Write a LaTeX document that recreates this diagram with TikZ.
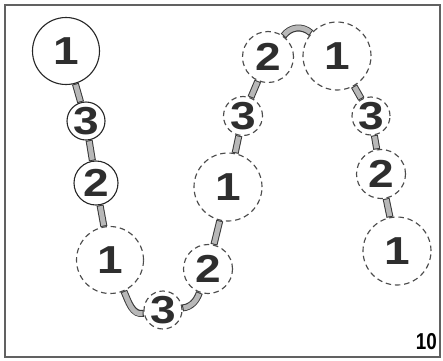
\documentclass[tikz,border=0pt]{standalone}
\usepackage{fontspec}
\newfontfamily\digitfont{Liberation Sans}
\newfontfamily\pagefont{Liberation Sans}
% wide heavy digits
\newcommand\wdigit[1]{\scalebox{1.18}[1]{#1}}

\begin{document}
\begin{tikzpicture}[x=1pt, y=-1pt,
  disc/.style={circle, draw=black!85, line width=1.1pt, fill=white, inner sep=0pt,
    text=black!82, font=\digitfont\bfseries\fontsize{39}{39}\selectfont},
  ghost/.style={disc, draw=black!70, line width=1.15pt, dash pattern=on 5.5pt off 3.8pt},
  link/.style={draw=black!28, line width=5pt, shorten <=1pt, shorten >=1pt,
    preaction={draw=black!78, line width=7pt, shorten <=0pt, shorten >=0pt}}
]
\useasboundingbox (0,0) rectangle (443,360);

% frame
\draw[line width=1.5pt, black!62] (5,5) rectangle (440,357);

% first run: solid circles
\node[disc, minimum size=67pt] (a1) at (66,51) {\wdigit{1}};
\node[disc, minimum size=38pt] (a3) at (86,121) {\wdigit{3}};
\node[disc, minimum size=44pt] (a2) at (96,183) {\wdigit{2}};

% remaining run: dashed circles
\node[ghost, minimum size=67pt] (b1) at (110,260) {\wdigit{1}};
\node[ghost, minimum size=38pt] (b3) at (163,310) {\wdigit{3}};
\node[ghost, minimum size=49pt] (b2) at (208,269) {\wdigit{2}};
\node[ghost, minimum size=68pt] (c1) at (228,187) {\wdigit{1}};
\node[ghost, minimum size=39pt] (c3) at (243,116) {\wdigit{3}};
\node[ghost, minimum size=51pt] (c2) at (268,57) {\wdigit{2}};
\node[ghost, minimum size=68pt] (d1) at (337,56) {\wdigit{1}};
\node[ghost, minimum size=38pt] (d3) at (371,116) {\wdigit{3}};
\node[ghost, minimum size=49pt] (d2) at (381,174) {\wdigit{2}};
\node[ghost, minimum size=68pt] (e1) at (397,251) {\wdigit{1}};

% connecting bars (out/in angles measured on the page, y upwards)
\draw[link] (a1) -- (a3);
\draw[link] (a3) -- (a2);
\draw[link] (a2) -- (b1);
\draw[link] (b1) to[out=-66, in=-170] (b3);
\draw[link] (b3) to[out=6, in=-110] (b2);
\draw[link] (b2) -- (c1);
\draw[link] (c1) -- (c3);
\draw[link] (c3) -- (c2);
\draw[link] (c2) .. controls (290,27) and (302,25) .. (d1);
\draw[link] (d1) -- (d3);
\draw[link] (d3) -- (d2);
\draw[link] (d2) -- (e1);

% page number
\node[inner sep=0pt, anchor=south east, font=\pagefont\bfseries\fontsize{23}{23}\selectfont]
  (pagenum) at (437,350) {\scalebox{0.82}[1]{10}};
\end{tikzpicture}
\end{document}
